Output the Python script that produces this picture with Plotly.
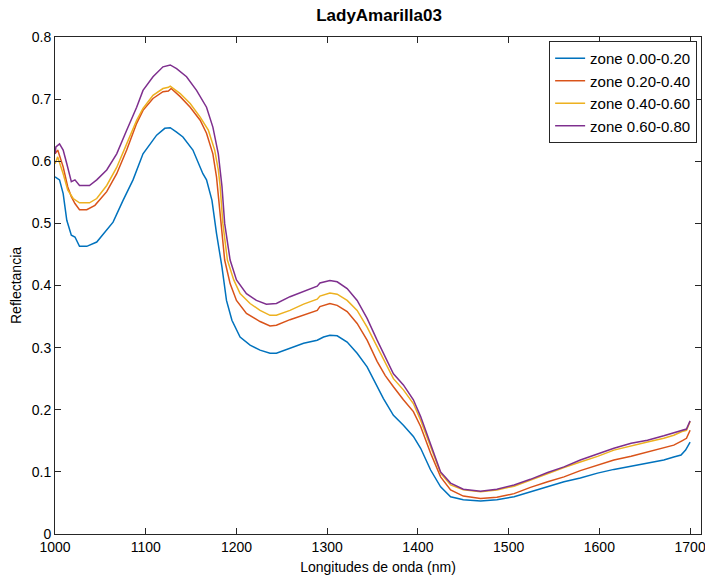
import plotly.graph_objects as go

# ---- data ----
wl_z1 = [1000, 1005, 1009, 1013, 1018, 1022, 1027, 1035, 1046, 1057, 1064, 1075, 1086, 1097, 1105, 1112,
         1121, 1127, 1134, 1141, 1152, 1163, 1167, 1173, 1178, 1184, 1189, 1195, 1204, 1215, 1226, 1237,
         1244, 1259, 1274, 1289, 1296, 1303, 1311, 1322, 1333, 1344, 1355, 1362, 1373, 1384, 1395, 1403,
         1414, 1425, 1436, 1450, 1469, 1487, 1506, 1524, 1543, 1561, 1579, 1598, 1616, 1635, 1653, 1671,
         1682, 1690, 1695, 1700]
refl_z1 = [0.575, 0.570, 0.548, 0.505, 0.481, 0.478, 0.463, 0.463, 0.470, 0.489, 0.502, 0.537, 0.570, 0.612,
           0.628, 0.642, 0.653, 0.654, 0.647, 0.639, 0.618, 0.580, 0.570, 0.537, 0.484, 0.430, 0.376, 0.344,
           0.317, 0.304, 0.296, 0.291, 0.291, 0.299, 0.307, 0.312, 0.317, 0.320, 0.319, 0.309, 0.291, 0.269,
           0.237, 0.218, 0.191, 0.175, 0.157, 0.138, 0.103, 0.076, 0.060, 0.055, 0.053, 0.055, 0.060, 0.068,
           0.076, 0.084, 0.090, 0.098, 0.104, 0.109, 0.114, 0.119, 0.124, 0.127, 0.135, 0.148]

wl_z2 = [1000, 1003, 1009, 1014, 1018, 1022, 1027, 1035, 1044, 1057, 1068, 1079, 1090, 1097, 1108, 1119,
         1125, 1128, 1138, 1149, 1160, 1167, 1174, 1178, 1180, 1184, 1187, 1193, 1200, 1211, 1226, 1237,
         1244, 1259, 1274, 1289, 1292, 1303, 1311, 1322, 1333, 1344, 1355, 1364, 1373, 1384, 1395, 1403,
         1414, 1425, 1436, 1450, 1469, 1487, 1506, 1524, 1543, 1561, 1579, 1598, 1616, 1635, 1653, 1671,
         1682, 1691, 1696, 1700]
refl_z2 = [0.612, 0.618, 0.591, 0.559, 0.543, 0.532, 0.522, 0.522, 0.529, 0.551, 0.580, 0.618, 0.661, 0.682,
           0.701, 0.712, 0.713, 0.717, 0.704, 0.687, 0.666, 0.645, 0.612, 0.575, 0.545, 0.484, 0.441, 0.403,
           0.376, 0.355, 0.342, 0.335, 0.336, 0.345, 0.353, 0.360, 0.366, 0.371, 0.368, 0.358, 0.339, 0.312,
           0.278, 0.255, 0.237, 0.216, 0.197, 0.173, 0.130, 0.092, 0.071, 0.061, 0.057, 0.059, 0.065, 0.075,
           0.084, 0.092, 0.102, 0.111, 0.119, 0.125, 0.132, 0.138, 0.143, 0.150, 0.154, 0.167]

wl_z3 = [1000, 1003, 1009, 1014, 1020, 1027, 1038, 1046, 1057, 1068, 1079, 1090, 1097, 1108, 1119, 1125,
         1127, 1138, 1149, 1160, 1169, 1176, 1180, 1182, 1185, 1190, 1197, 1204, 1215, 1226, 1237, 1244,
         1259, 1274, 1289, 1292, 1303, 1311, 1322, 1333, 1344, 1355, 1366, 1373, 1384, 1395, 1403, 1414,
         1425, 1436, 1450, 1469, 1487, 1506, 1524, 1543, 1561, 1579, 1598, 1616, 1635, 1653, 1671, 1682,
         1691, 1696, 1700]
refl_z3 = [0.596, 0.607, 0.580, 0.554, 0.540, 0.533, 0.533, 0.540, 0.561, 0.590, 0.628, 0.666, 0.685, 0.706,
           0.717, 0.719, 0.721, 0.709, 0.693, 0.671, 0.650, 0.618, 0.586, 0.560, 0.500, 0.441, 0.409, 0.387,
           0.371, 0.360, 0.352, 0.352, 0.360, 0.370, 0.378, 0.383, 0.388, 0.386, 0.376, 0.360, 0.333, 0.301,
           0.268, 0.250, 0.232, 0.210, 0.183, 0.140, 0.098, 0.079, 0.071, 0.068, 0.071, 0.077, 0.087, 0.098,
           0.107, 0.116, 0.125, 0.135, 0.142, 0.148, 0.154, 0.159, 0.165, 0.167, 0.181]

wl_z4 = [1000, 1001, 1005, 1009, 1013, 1018, 1022, 1027, 1038, 1046, 1057, 1068, 1079, 1090, 1097, 1108,
         1119, 1127, 1134, 1145, 1156, 1167, 1174, 1180, 1184, 1187, 1193, 1200, 1211, 1222, 1233, 1244,
         1259, 1274, 1289, 1292, 1303, 1311, 1322, 1333, 1344, 1355, 1366, 1373, 1384, 1395, 1403, 1414,
         1425, 1436, 1450, 1469, 1487, 1506, 1524, 1543, 1561, 1579, 1598, 1616, 1635, 1653, 1671, 1682,
         1691, 1696, 1700]
refl_z4 = [0.612, 0.623, 0.628, 0.618, 0.596, 0.567, 0.570, 0.561, 0.561, 0.570, 0.586, 0.612, 0.650, 0.687,
           0.714, 0.736, 0.752, 0.755, 0.749, 0.736, 0.714, 0.687, 0.655, 0.612, 0.560, 0.500, 0.441, 0.409,
           0.387, 0.376, 0.370, 0.371, 0.382, 0.391, 0.399, 0.404, 0.408, 0.406, 0.395, 0.376, 0.347, 0.312,
           0.278, 0.258, 0.240, 0.216, 0.189, 0.143, 0.100, 0.082, 0.072, 0.069, 0.072, 0.079, 0.088, 0.099,
           0.108, 0.119, 0.129, 0.138, 0.146, 0.151, 0.158, 0.163, 0.167, 0.169, 0.182]

series_names = ["zone 0.00-0.20", "zone 0.20-0.40", "zone 0.40-0.60", "zone 0.60-0.80"]
series_colors = ["#0072BD", "#D95319", "#EDB120", "#7E2F8E"]

x_ticks = [1000, 1100, 1200, 1300, 1400, 1500, 1600, 1700]
y_ticks = [0, 0.1, 0.2, 0.3, 0.4, 0.5, 0.6, 0.7, 0.8]
y_tick_text = ["0", "0.1", "0.2", "0.3", "0.4", "0.5", "0.6", "0.7", "0.8"]

FONT = "Liberation Sans, Arial, Helvetica, sans-serif"

fig = go.Figure()
for wl, refl, name, col in zip([wl_z1, wl_z2, wl_z3, wl_z4],
                               [refl_z1, refl_z2, refl_z3, refl_z4],
                               series_names, series_colors):
    fig.add_trace(go.Scatter(x=wl, y=refl, mode="lines", name=name,
                             line=dict(color=col, width=1.5)))

axis_common = dict(showgrid=False, zeroline=False, showline=True, linecolor="#262626",
                   linewidth=1, mirror="ticks", ticks="inside", ticklen=6, automargin=False,
                   ticklabeloverflow="allow",
                   tickcolor="#262626", tickfont=dict(family=FONT, size=14, color="#000000"))

W, H = 705, 579
fig.update_layout(
    width=W, height=H,
    margin=dict(l=55, r=4, t=37, b=45, autoexpand=False),
    paper_bgcolor="white", plot_bgcolor="white",
    title=dict(text="<b>LadyAmarilla03</b>", x=(379 - 55) / (W - 59), xref="paper", xanchor="center",
               y=1 - 15 / H, yanchor="middle",
               font=dict(family=FONT, size=17, color="#000000")),
    xaxis=dict(range=[1000, 1712], tickvals=x_ticks,
               title=dict(text="Longitudes de onda (nm)", standoff=8,
                          font=dict(family=FONT, size=14, color="#000000")),
               **axis_common),
    yaxis=dict(range=[0, 0.8], tickvals=y_ticks, ticktext=y_tick_text,
               title=dict(text="Reflectancia", standoff=6,
                          font=dict(family=FONT, size=14, color="#000000")),
               **axis_common),
    legend=dict(x=0.994, y=0.992, xanchor="right", yanchor="top",
                bgcolor="white", bordercolor="#262626", borderwidth=1,
                font=dict(family=FONT, size=15, color="#000000"),
                tracegroupgap=0, itemwidth=30),
    showlegend=True,
)

fig.write_html("out.html",
               config={"displayModeBar": False},
               post_script="document.body.style.margin='0px';document.body.style.overflow='hidden';")
